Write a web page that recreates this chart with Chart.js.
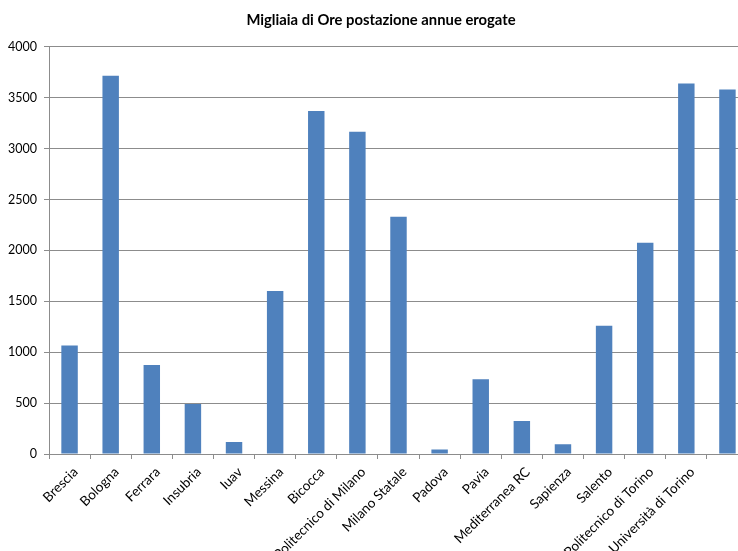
<!DOCTYPE html>
<html>
<head>
<meta charset="utf-8">
<script src="https://cdn.jsdelivr.net/npm/chart.js@4.4.1/dist/chart.umd.min.js"></script>
<style>
  html, body { margin: 0; padding: 0; background: #fff; overflow: hidden; }
  #wrap { width: 762px; height: 620px; }
</style>
</head>
<body>
<div id="wrap"><canvas id="chart" width="762" height="620"></canvas></div>
<script>
// atenei (l'ultima etichetta non è leggibile nell'originale)
const categories = [
  'Brescia', 'Bologna', 'Ferrara', 'Insubria', 'Iuav', 'Messina', 'Bicocca',
  'Politecnico di Milano', 'Milano Statale', 'Padova', 'Pavia', 'Mediterranea RC',
  'Sapienza', 'Salento', 'Politecnico di Torino', 'Università di Torino', ''
];
// migliaia di ore postazione annue erogate
const oreErogate = [
  1065, 3715, 875, 490, 118, 1600, 3370, 3165, 2330, 45, 735, 325, 95, 1260, 2075, 3640, 3580
];
const yTicks = [0, 500, 1000, 1500, 2000, 2500, 3000, 3500, 4000];

const fontFamily = 'Lato, "Open Sans", sans-serif';
const gridColor = '#8c8c8c';

// the y labels are clipped to the scale box; widen it to the canvas edge
const unclipY = {
  id: 'unclipY',
  afterLayout(chart) { chart.scales.y.left = 0; }
};

new Chart(document.getElementById('chart'), {
  type: 'bar',
  data: {
    labels: categories,
    datasets: [{
      data: oreErogate,
      backgroundColor: '#4f81bd',
      borderWidth: 0,
      categoryPercentage: 1,
      barPercentage: 0.4
    }]
  },
  plugins: [unclipY],
  options: {
    responsive: false,
    animation: false,
    layout: { padding: { left: 14, right: 14, top: 0, bottom: 0 } },
    plugins: {
      legend: { display: false },
      tooltip: { enabled: false },
      title: {
        display: true,
        text: 'Migliaia di Ore postazione annue erogate',
        color: '#000',
        font: { family: fontFamily, size: 14.8, weight: 'bold' },
        padding: { top: 11, bottom: 18 }
      }
    },
    scales: {
      x: {
        afterFit: (scale) => { scale.height = 166; },
        grid: {
          display: true,
          offset: true,
          drawOnChartArea: false,
          drawTicks: true,
          tickLength: 5,
          color: gridColor
        },
        border: { display: true, color: gridColor, width: 1 },
        ticks: {
          autoSkip: false,
          maxRotation: 45,
          minRotation: 45,
          padding: 5,
          labelOffset: 6,
          color: '#000',
          font: { family: fontFamily, size: 13.5 }
        }
      },
      y: {
        min: 0,
        max: 4000,
        afterFit: (scale) => { scale.width = 35; },
        afterBuildTicks: (scale) => { scale.ticks = yTicks.map(v => ({ value: v })); },
        grid: {
          color: gridColor,
          tickLength: 5
        },
        border: { display: true, color: gridColor, width: 1 },
        ticks: {
          padding: 7,
          color: '#000',
          font: { family: fontFamily, size: 12.5 },
          callback: (v) => String(v)
        }
      }
    }
  }
});
</script>
</body>
</html>
